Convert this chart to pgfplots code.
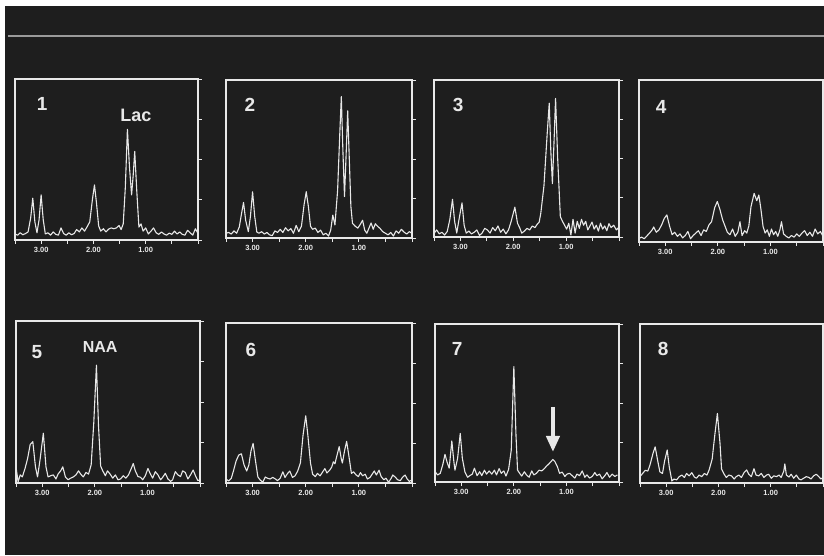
\documentclass[border=0pt]{standalone}
\usepackage{fontspec}
\setmainfont{Liberation Sans}
\usepackage{pgfplots}
\pgfplotsset{compat=1.18}
\usetikzlibrary{arrows.meta}
\definecolor{bg}{HTML}{1E1E1E}
\definecolor{fg}{HTML}{E8E8E8}
\definecolor{rule}{HTML}{9A9A9A}
\pgfplotsset{
 panel/.style={
  scale only axis, xmin=0, xmax=3.5, x dir=reverse, ymin=0, ymax=4,
  anchor=south west,
  axis line style={fg, line width=1.2pt},
  every tick/.style={fg, line width=0.9pt},
  major tick length=4pt, minor tick length=4pt,
  tick align=outside,
  xtick={3,2,1}, xticklabels={3.00,2.00,1.00},
  minor xtick={0,0.5,1.5,2.5,3.5},
  xtick pos=left, ytick pos=right,
  ytick={0,1,2,3,4}, yticklabels={},
  xticklabel style={font=\fontsize{7.5}{8}\selectfont\bfseries, text=fg, yshift=0.5pt},
 },
 spec/.style={fg, line width=1.1pt, no marks, line join=round},
}
\tikzset{num/.style={text=fg, font=\fontsize{19}{19}\selectfont\bfseries}}
\begin{document}
\begin{tikzpicture}
\useasboundingbox (0pt,0pt) rectangle (824pt,555pt);
\fill[white] (0pt,0pt) rectangle (824pt,555pt);
\fill[bg] (5pt,0pt) rectangle (824pt,549pt);
\draw[rule, line width=1.3pt] (8pt,519pt) -- (824pt,519pt);

% ---------- Panel 1 ----------
\begin{axis}[panel, at={(15pt,315pt)}, width=183pt, height=161pt]
\addplot[spec] table {
x y
3.50 0.15
3.45 0.12
3.40 0.18
3.35 0.13
3.30 0.16
3.25 0.20
3.20 0.55
3.16 1.04
3.12 0.45
3.08 0.18
3.04 0.50
3.00 1.12
2.96 0.50
2.92 0.15
2.87 0.18
2.82 0.12
2.77 0.20
2.72 0.14
2.67 0.12
2.62 0.30
2.57 0.16
2.52 0.12
2.47 0.18
2.42 0.13
2.37 0.16
2.32 0.26
2.27 0.20
2.22 0.30
2.17 0.22
2.12 0.33
2.07 0.45
2.02 1.00
1.98 1.37
1.94 0.90
1.90 0.35
1.86 0.22
1.81 0.28
1.76 0.20
1.71 0.27
1.66 0.30
1.61 0.28
1.56 0.30
1.51 0.36
1.47 0.26
1.43 0.40
1.39 1.30
1.35 2.75
1.31 1.80
1.27 1.12
1.24 1.60
1.21 2.20
1.17 1.20
1.13 0.32
1.09 0.40
1.05 0.22
1.00 0.30
0.95 0.15
0.90 0.22
0.85 0.30
0.80 0.18
0.75 0.14
0.70 0.20
0.65 0.15
0.60 0.12
0.55 0.17
0.50 0.14
0.45 0.22
0.40 0.15
0.35 0.20
0.30 0.14
0.25 0.12
0.20 0.24
0.15 0.18
0.10 0.12
0.05 0.28
0.00 0.16
};
\node[num] at (rel axis cs:0.148,0.845) {1};
\node[text=fg, font=\fontsize{18}{18}\selectfont\bfseries] at (rel axis cs:0.661,0.776) {Lac};
\end{axis}

% ---------- Panel 2 ----------
\begin{axis}[panel, at={(226pt,317pt)}, width=186pt, height=158pt]
\addplot[spec] table {
x y
3.50 0.12
3.45 0.14
3.40 0.10
3.35 0.18
3.30 0.12
3.25 0.28
3.21 0.60
3.17 0.90
3.13 0.45
3.08 0.16
3.04 0.55
3.00 1.17
2.96 0.55
2.92 0.15
2.88 0.12
2.83 0.16
2.78 0.10
2.73 0.14
2.68 0.08
2.63 0.06
2.58 0.18
2.53 0.14
2.48 0.22
2.43 0.14
2.38 0.26
2.33 0.18
2.28 0.24
2.23 0.12
2.18 0.32
2.13 0.16
2.08 0.30
2.03 0.85
1.99 1.17
1.95 0.80
1.91 0.30
1.87 0.22
1.82 0.25
1.77 0.14
1.72 0.20
1.67 0.08
1.62 0.12
1.57 0.05
1.53 0.20
1.49 0.58
1.45 0.33
1.40 1.20
1.36 2.60
1.33 3.58
1.30 2.20
1.27 1.05
1.24 2.10
1.21 3.22
1.18 2.00
1.15 0.80
1.12 0.37
1.07 0.30
1.02 0.25
0.97 0.35
0.93 0.45
0.89 0.20
0.85 0.12
0.81 0.25
0.77 0.38
0.73 0.22
0.69 0.36
0.65 0.30
0.60 0.24
0.55 0.16
0.50 0.12
0.45 0.08
0.40 0.14
0.35 0.05
0.30 0.18
0.25 0.12
0.20 0.22
0.15 0.15
0.10 0.10
0.05 0.16
0.00 0.12
};
\node[num] at (rel axis cs:0.129,0.842) {2};
\end{axis}

% ---------- Panel 3 ----------
\begin{axis}[panel, at={(434pt,318pt)}, width=185pt, height=157pt]
\addplot[spec] table {
x y
3.50 0.09
3.45 0.18
3.40 0.08
3.35 0.12
3.30 0.05
3.25 0.14
3.20 0.45
3.15 0.96
3.11 0.40
3.07 0.10
3.02 0.50
2.97 0.87
2.93 0.30
2.89 0.10
2.84 0.15
2.79 0.08
2.74 0.12
2.69 0.18
2.64 0.04
2.59 0.10
2.54 0.22
2.49 0.18
2.44 0.10
2.39 0.24
2.34 0.16
2.29 0.28
2.24 0.12
2.19 0.20
2.14 0.08
2.09 0.18
2.04 0.40
1.97 0.76
1.92 0.35
1.88 0.24
1.84 0.10
1.79 0.15
1.74 0.22
1.69 0.18
1.64 0.28
1.59 0.24
1.55 0.32
1.51 0.38
1.48 0.60
1.42 1.30
1.36 2.60
1.32 3.41
1.29 2.20
1.26 1.36
1.23 2.40
1.20 3.53
1.16 2.00
1.11 0.52
1.07 0.40
1.03 0.30
0.99 0.20
0.95 0.35
0.91 0.05
0.87 0.45
0.83 0.10
0.79 0.40
0.75 0.22
0.71 0.45
0.67 0.30
0.63 0.40
0.59 0.18
0.55 0.28
0.51 0.38
0.47 0.20
0.43 0.30
0.39 0.15
0.35 0.35
0.31 0.20
0.27 0.28
0.23 0.16
0.19 0.34
0.15 0.24
0.10 0.30
0.05 0.18
0.00 0.25
};
\node[num] at (rel axis cs:0.13,0.841) {3};
\end{axis}

% ---------- Panel 4 ----------
\begin{axis}[panel, at={(639pt,313pt)}, width=184pt, height=162pt]
\addplot[spec] table {
x y
3.50 0.09
3.45 0.12
3.40 0.08
3.35 0.15
3.30 0.22
3.25 0.30
3.22 0.37
3.17 0.24
3.12 0.30
3.07 0.42
3.02 0.58
2.97 0.67
2.92 0.40
2.87 0.18
2.82 0.24
2.77 0.14
2.72 0.20
2.67 0.10
2.62 0.16
2.57 0.26
2.52 0.08
2.47 0.16
2.42 0.22
2.37 0.28
2.32 0.16
2.27 0.30
2.22 0.26
2.17 0.42
2.12 0.50
2.06 0.85
2.01 1.00
1.96 0.80
1.91 0.55
1.86 0.38
1.82 0.24
1.77 0.18
1.72 0.32
1.67 0.14
1.62 0.24
1.58 0.50
1.54 0.16
1.49 0.28
1.45 0.22
1.41 0.40
1.37 0.87
1.31 1.20
1.26 1.02
1.22 1.16
1.18 0.80
1.14 0.38
1.10 0.22
1.06 0.30
1.02 0.14
0.98 0.32
0.94 0.18
0.90 0.26
0.86 0.14
0.82 0.30
0.79 0.50
0.75 0.20
0.70 0.14
0.65 0.10
0.60 0.16
0.55 0.12
0.50 0.20
0.45 0.14
0.40 0.22
0.35 0.28
0.30 0.16
0.25 0.24
0.20 0.14
0.15 0.32
0.10 0.20
0.05 0.26
0.00 0.14
};
\node[num] at (rel axis cs:0.12,0.833) {4};
\end{axis}

% ---------- Panel 5 ----------
\begin{axis}[panel, at={(16pt,72pt)}, width=184pt, height=162pt]
\addplot[spec] table {
x y
3.50 0.40
3.46 0.03
3.42 0.20
3.38 0.15
3.33 0.35
3.28 0.60
3.23 0.95
3.18 1.02
3.13 0.40
3.09 0.15
3.04 0.60
2.98 1.23
2.93 0.40
2.89 0.15
2.84 0.18
2.79 0.20
2.74 0.10
2.70 0.22
2.65 0.30
2.61 0.40
2.56 0.15
2.51 0.08
2.46 0.12
2.41 0.15
2.36 0.20
2.31 0.30
2.27 0.22
2.22 0.15
2.17 0.26
2.12 0.22
2.07 0.45
2.02 1.50
1.97 2.91
1.93 1.40
1.89 0.42
1.85 0.30
1.80 0.18
1.76 0.30
1.71 0.22
1.66 0.12
1.61 0.20
1.56 0.08
1.51 0.10
1.46 0.18
1.41 0.12
1.36 0.20
1.31 0.35
1.27 0.48
1.23 0.30
1.18 0.16
1.13 0.14
1.09 0.08
1.04 0.18
0.99 0.36
0.95 0.24
0.90 0.12
0.85 0.28
0.80 0.20
0.75 0.08
0.71 0.14
0.66 0.24
0.61 0.10
0.56 0.04
0.52 0.08
0.47 0.28
0.42 0.20
0.37 0.16
0.33 0.30
0.28 0.26
0.23 0.10
0.18 0.20
0.13 0.32
0.08 0.16
0.04 0.06
0.00 0.08
};
\node[num] at (rel axis cs:0.114,0.809) {5};
\node[text=fg, font=\fontsize{16}{16}\selectfont\bfseries] at (rel axis cs:0.457,0.84) {NAA};
\end{axis}

% ---------- Panel 6 ----------
\begin{axis}[panel, at={(226pt,72pt)}, width=186pt, height=160pt]
\addplot[spec] table {
x y
3.50 0.10
3.45 0.05
3.40 0.12
3.36 0.30
3.31 0.55
3.26 0.70
3.21 0.73
3.16 0.45
3.11 0.30
3.07 0.45
3.03 0.80
2.99 0.99
2.95 0.60
2.90 0.15
2.86 0.08
2.81 0.02
2.76 0.15
2.72 0.12
2.67 0.10
2.62 0.14
2.57 0.10
2.53 0.06
2.48 0.12
2.43 0.28
2.39 0.14
2.34 0.24
2.30 0.30
2.25 0.14
2.20 0.18
2.15 0.30
2.10 0.50
2.05 1.20
2.00 1.68
1.96 1.20
1.91 0.50
1.87 0.22
1.82 0.16
1.78 0.24
1.73 0.18
1.69 0.26
1.64 0.36
1.60 0.25
1.55 0.32
1.51 0.40
1.48 0.53
1.45 0.48
1.41 0.70
1.37 0.91
1.33 0.60
1.31 0.50
1.27 0.80
1.23 1.04
1.19 0.70
1.14 0.24
1.10 0.28
1.05 0.20
1.01 0.16
0.97 0.26
0.93 0.18
0.88 0.22
0.84 0.10
0.79 0.14
0.75 0.22
0.71 0.30
0.67 0.20
0.62 0.32
0.58 0.16
0.53 0.08
0.49 0.12
0.44 0.02
0.40 0.10
0.36 0.20
0.31 0.14
0.27 0.08
0.22 0.06
0.18 0.14
0.13 0.20
0.09 0.10
0.05 0.04
0.00 0.08
};
\node[num] at (rel axis cs:0.134,0.831) {6};
\end{axis}

% ---------- Panel 7 ----------
\begin{axis}[panel, at={(435pt,73pt)}, width=184pt, height=158pt]
\addplot[spec] table {
x y
3.50 0.26
3.45 0.18
3.40 0.22
3.35 0.45
3.31 0.70
3.27 0.50
3.23 0.35
3.18 1.04
3.14 0.50
3.12 0.30
3.07 0.60
3.02 1.23
2.98 0.60
2.93 0.25
2.88 0.12
2.84 0.16
2.79 0.20
2.75 0.35
2.70 0.16
2.65 0.26
2.61 0.16
2.56 0.30
2.52 0.20
2.47 0.28
2.42 0.20
2.37 0.30
2.33 0.18
2.28 0.34
2.24 0.22
2.19 0.28
2.15 0.15
2.10 0.32
2.05 0.80
2.00 2.92
1.96 1.20
1.93 0.30
1.89 0.22
1.85 0.15
1.80 0.26
1.76 0.18
1.71 0.12
1.66 0.28
1.62 0.18
1.57 0.22
1.52 0.30
1.47 0.28
1.42 0.34
1.38 0.40
1.34 0.45
1.29 0.52
1.26 0.57
1.22 0.52
1.17 0.38
1.13 0.22
1.08 0.25
1.03 0.14
0.99 0.20
0.94 0.22
0.89 0.16
0.84 0.10
0.80 0.20
0.75 0.16
0.70 0.28
0.65 0.12
0.61 0.18
0.56 0.10
0.51 0.14
0.46 0.24
0.42 0.16
0.37 0.20
0.32 0.08
0.27 0.16
0.23 0.24
0.18 0.12
0.13 0.20
0.08 0.14
0.03 0.18
};
\node[num] at (rel axis cs:0.12,0.842) {7};
\draw[fg, line width=4pt, -{Triangle[width=13pt,length=16pt]}] (rel axis cs:0.641,0.475) -- (rel axis cs:0.641,0.19);
\end{axis}

% ---------- Panel 8 ----------
\begin{axis}[panel, at={(640pt,72pt)}, width=183pt, height=159pt]
\addplot[spec] table {
x y
3.50 0.16
3.45 0.24
3.40 0.32
3.35 0.30
3.31 0.45
3.25 0.75
3.21 0.91
3.16 0.55
3.12 0.28
3.07 0.24
3.03 0.55
2.98 0.83
2.94 0.40
2.89 0.05
2.85 0.10
2.80 0.08
2.75 0.16
2.70 0.20
2.65 0.14
2.61 0.24
2.56 0.18
2.51 0.26
2.46 0.15
2.42 0.12
2.37 0.20
2.32 0.16
2.27 0.24
2.22 0.20
2.18 0.32
2.12 0.60
2.07 1.20
2.02 1.75
1.97 1.00
1.94 0.35
1.89 0.22
1.85 0.14
1.80 0.20
1.75 0.18
1.70 0.10
1.66 0.16
1.61 0.20
1.56 0.14
1.51 0.26
1.46 0.33
1.42 0.22
1.37 0.16
1.32 0.36
1.28 0.20
1.23 0.18
1.18 0.24
1.13 0.14
1.08 0.20
1.04 0.22
0.99 0.12
0.94 0.18
0.89 0.16
0.84 0.20
0.80 0.14
0.75 0.30
0.73 0.48
0.70 0.20
0.65 0.15
0.61 0.22
0.56 0.12
0.51 0.20
0.46 0.10
0.42 0.08
0.37 0.12
0.32 0.16
0.27 0.14
0.23 0.10
0.18 0.18
0.13 0.22
0.08 0.16
0.04 0.10
0.00 0.14
};
\node[num] at (rel axis cs:0.126,0.843) {8};
\end{axis}
\end{tikzpicture}
\end{document}
